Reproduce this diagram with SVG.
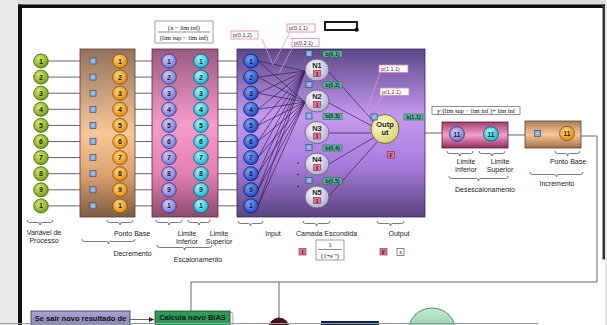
<svg xmlns="http://www.w3.org/2000/svg" width="607" height="325" viewBox="0 0 607 325">
<defs>
<linearGradient id="gBrown" x1="0" y1="0" x2="0" y2="1"><stop offset="0" stop-color="#94725a"/><stop offset="0.5" stop-color="#f8c898"/><stop offset="0.75" stop-color="#dca070"/><stop offset="1" stop-color="#7c5c40"/></linearGradient>
<linearGradient id="gPink" x1="0" y1="0" x2="0" y2="1"><stop offset="0" stop-color="#9a5a80"/><stop offset="0.45" stop-color="#f59ccb"/><stop offset="0.75" stop-color="#e27fb0"/><stop offset="1" stop-color="#8c4c6c"/></linearGradient>
<linearGradient id="gPurple" x1="0" y1="0" x2="0" y2="1"><stop offset="0" stop-color="#5c4888"/><stop offset="0.4" stop-color="#c49af0"/><stop offset="0.7" stop-color="#a47cd8"/><stop offset="1" stop-color="#5a4480"/></linearGradient>
<linearGradient id="gDes" x1="0" y1="0" x2="0" y2="1"><stop offset="0" stop-color="#a0406a"/><stop offset="0.5" stop-color="#f4a0cc"/><stop offset="1" stop-color="#902c5c"/></linearGradient>
<linearGradient id="gInc" x1="0" y1="0" x2="0" y2="1"><stop offset="0" stop-color="#a87c56"/><stop offset="0.5" stop-color="#f8c898"/><stop offset="1" stop-color="#a07048"/></linearGradient>
<radialGradient id="cGreen" cx="0.4" cy="0.35" r="0.7"><stop offset="0" stop-color="#d8ec70"/><stop offset="1" stop-color="#6a9a10"/></radialGradient>
<radialGradient id="cOrange" cx="0.4" cy="0.35" r="0.7"><stop offset="0" stop-color="#ffd878"/><stop offset="1" stop-color="#e08810"/></radialGradient>
<radialGradient id="cLav" cx="0.4" cy="0.35" r="0.7"><stop offset="0" stop-color="#d0d0ff"/><stop offset="1" stop-color="#7070d0"/></radialGradient>
<radialGradient id="cCyan" cx="0.4" cy="0.35" r="0.7"><stop offset="0" stop-color="#a8f8ff"/><stop offset="1" stop-color="#10b0c8"/></radialGradient>
<radialGradient id="cBlue" cx="0.4" cy="0.35" r="0.7"><stop offset="0" stop-color="#7aa8ff"/><stop offset="1" stop-color="#1a40c0"/></radialGradient>
<radialGradient id="cNeuron" cx="0.4" cy="0.35" r="0.75"><stop offset="0" stop-color="#ffffff"/><stop offset="1" stop-color="#a8a0cc"/></radialGradient>
<radialGradient id="cYellow" cx="0.4" cy="0.35" r="0.75"><stop offset="0" stop-color="#ffffd8"/><stop offset="1" stop-color="#d4cc60"/></radialGradient>
<linearGradient id="gBall" x1="0" y1="0" x2="0" y2="1"><stop offset="0" stop-color="#c8ecd0"/><stop offset="1" stop-color="#40a880"/></linearGradient>
<linearGradient id="gSe" x1="0" y1="0" x2="0" y2="1"><stop offset="0" stop-color="#a8a6d4"/><stop offset="1" stop-color="#7a78a8"/></linearGradient>
<marker id="arr" markerWidth="6" markerHeight="6" refX="5" refY="3" orient="auto" markerUnits="userSpaceOnUse"><path d="M0,0.5 L5,3 L0,5.5 z" fill="#222"/></marker>
</defs>
<style>
.num{font-family:"Liberation Sans",Arial,sans-serif;font-size:7px;font-weight:bold;fill:#1a1a1a;text-anchor:middle}
.lbl{font-family:"Liberation Sans",Arial,sans-serif;font-size:7px;fill:#222;text-anchor:middle}
.plbl{font-family:"Liberation Sans",Arial,sans-serif;font-size:5.5px;fill:#333}
.blbl{font-family:"Liberation Sans",Arial,sans-serif;font-size:5.5px;font-weight:bold;fill:#123;text-anchor:middle}
.frm{font-family:"Liberation Serif","Times New Roman",serif;font-size:6.5px;fill:#111;text-anchor:middle}
.cg{fill:url(#cGreen);stroke:#3a5a08;stroke-width:0.8}
.co{fill:url(#cOrange);stroke:#8a4a00;stroke-width:0.8}
.cl{fill:url(#cLav);stroke:#303080;stroke-width:0.8}
.cc{fill:url(#cCyan);stroke:#005a70;stroke-width:0.8}
.cb{fill:url(#cBlue);stroke:#0a1a60;stroke-width:0.8}
.sq{fill:#8cb0e0;stroke:#30507a;stroke-width:0.7}
.dot{fill:#ffffff}
.pk{fill:#e07898;stroke:#7a2a40;stroke-width:0.6}
.pkt{font-family:"Liberation Serif",serif;font-size:5.5px;fill:#4a0a20;text-anchor:middle;font-weight:bold}
.bl{fill:#5cc09a;stroke:#2a6a50;stroke-width:0.6}
.pbox{fill:#fff;stroke:#e080b0;stroke-width:0.8}
.wire{stroke:#555;stroke-width:0.9;fill:none}
.net{stroke:#3a1a52;stroke-width:0.7;fill:none}
.pline{stroke:#e890c0;stroke-width:0.8;fill:none}
.brace{stroke:#555;stroke-width:0.8;fill:none}
.neu{fill:url(#cNeuron);stroke:#606070;stroke-width:0.8}
</style>
<rect x="0" y="0" width="607" height="325" fill="#ffffff"/>
<rect x="0" y="0" width="607" height="5" fill="#dcdcdc"/>
<rect x="0" y="0" width="18" height="325" fill="#ebebeb"/>
<rect x="605" y="0" width="2" height="325" fill="#e6e6e6"/>
<rect x="18" y="4.5" width="587" height="3.5" fill="#111"/>
<rect x="18" y="4.5" width="4" height="320.5" fill="#111"/>
<rect x="602.5" y="4.5" width="2.5" height="255" fill="#333"/>

<g id="connectors">
<path class="wire" d="M48.5,61H80M48.5,77.1H80M48.5,93.2H80M48.5,109.3H80M48.5,125.4H80M48.5,141.5H80M48.5,157.6H80M48.5,173.7H80M48.5,189.8H80M48.5,205.9H80"/>
<path class="wire" d="M135,61H152M135,77.1H152M135,93.2H152M135,109.3H152M135,125.4H152M135,141.5H152M135,157.6H152M135,173.7H152M135,189.8H152M135,205.9H152"/>
<path class="wire" d="M218,61H237M218,77.1H237M218,93.2H237M218,109.3H237M218,125.4H237M218,141.5H237M218,157.6H237M218,173.7H237M218,189.8H237M218,205.9H237"/>
<path class="wire" d="M399,133H442M508,135H525M581,136H597V282H191V311M279,282V318"/>
<path class="wire" d="M130,319.5H154" marker-end="url(#arr)"/>
</g>

<g id="decremento">
<rect x="80" y="49" width="55" height="168" fill="url(#gBrown)" stroke="#5a4030" stroke-width="0.8"/>
</g>
<g id="escalonamento">
<rect x="152" y="49" width="66" height="168" fill="url(#gPink)" stroke="#5a2a40" stroke-width="0.8"/>
<rect x="155" y="21" width="58" height="22" fill="#fff" stroke="#888" stroke-width="0.8"/>
<text class="frm" x="184" y="29.5">(x − lim inf)</text>
<line x1="158" y1="32" x2="210" y2="32" stroke="#222" stroke-width="0.5"/>
<text class="frm" x="184" y="39.5">(lim sup − lim inf)</text>
</g>
<g id="rede">
<rect x="237" y="49" width="188" height="168" fill="url(#gPurple)" stroke="#3a2a5a" stroke-width="0.8"/>
</g>

<g id="network-lines">
<path class="net" d="M258,61L305,71M258,77.1L305,71M258,93.2L305,71M258,109.3L305,71M258,125.4L305,71M258,141.5L305,71M258,157.6L305,71M258,173.7L305,71M258,189.8L305,71M258,205.9L305,71"/>
<path class="net" d="M258,61L305,102M258,77.1L305,102M258,93.2L305,102M258,109.3L305,102M258,125.4L305,102M258,141.5L305,102M258,157.6L305,102M258,173.7L305,102M258,189.8L305,102M258,205.9L305,102"/>
<path class="net" d="M329,72L374,122M329,103L372,126M329,133H371M329,164L373,138M329,196L377,142"/>
<path class="pline" d="M262,39L273,65M290,32L274,63M293,47L279,73M380,73L365,115M382,96L370,116"/>
</g>

<g id="variavel">
<ellipse class="cg" cx="41" cy="61" rx="7.3" ry="7"/><text class="num" x="41" y="63.5">1</text>
<ellipse class="cg" cx="41" cy="77.1" rx="7.3" ry="7"/><text class="num" x="41" y="79.6">2</text>
<ellipse class="cg" cx="41" cy="93.2" rx="7.3" ry="7"/><text class="num" x="41" y="95.7">3</text>
<ellipse class="cg" cx="41" cy="109.3" rx="7.3" ry="7"/><text class="num" x="41" y="111.8">4</text>
<ellipse class="cg" cx="41" cy="125.4" rx="7.3" ry="7"/><text class="num" x="41" y="127.9">5</text>
<ellipse class="cg" cx="41" cy="141.5" rx="7.3" ry="7"/><text class="num" x="41" y="144">6</text>
<ellipse class="cg" cx="41" cy="157.6" rx="7.3" ry="7"/><text class="num" x="41" y="160.1">7</text>
<ellipse class="cg" cx="41" cy="173.7" rx="7.3" ry="7"/><text class="num" x="41" y="176.2">8</text>
<ellipse class="cg" cx="41" cy="189.8" rx="7.3" ry="7"/><text class="num" x="41" y="192.3">9</text>
<ellipse class="cg" cx="41" cy="205.9" rx="7.3" ry="7"/><text class="num" x="41" y="208.4">1</text>
</g>

<g id="decremento-itens">
<rect class="sq" x="90" y="58" width="6" height="6"/><rect class="sq" x="90" y="74.1" width="6" height="6"/><rect class="sq" x="90" y="90.2" width="6" height="6"/><rect class="sq" x="90" y="106.3" width="6" height="6"/><rect class="sq" x="90" y="122.4" width="6" height="6"/><rect class="sq" x="90" y="138.5" width="6" height="6"/><rect class="sq" x="90" y="154.6" width="6" height="6"/><rect class="sq" x="90" y="170.7" width="6" height="6"/><rect class="sq" x="90" y="186.8" width="6" height="6"/><rect class="sq" x="90" y="202.9" width="6" height="6"/>
<ellipse class="co" cx="120" cy="61" rx="7.3" ry="7"/><text class="num" x="120" y="63.5">1</text>
<ellipse class="co" cx="120" cy="77.1" rx="7.3" ry="7"/><text class="num" x="120" y="79.6">2</text>
<ellipse class="co" cx="120" cy="93.2" rx="7.3" ry="7"/><text class="num" x="120" y="95.7">3</text>
<ellipse class="co" cx="120" cy="109.3" rx="7.3" ry="7"/><text class="num" x="120" y="111.8">4</text>
<ellipse class="co" cx="120" cy="125.4" rx="7.3" ry="7"/><text class="num" x="120" y="127.9">5</text>
<ellipse class="co" cx="120" cy="141.5" rx="7.3" ry="7"/><text class="num" x="120" y="144">6</text>
<ellipse class="co" cx="120" cy="157.6" rx="7.3" ry="7"/><text class="num" x="120" y="160.1">7</text>
<ellipse class="co" cx="120" cy="173.7" rx="7.3" ry="7"/><text class="num" x="120" y="176.2">8</text>
<ellipse class="co" cx="120" cy="189.8" rx="7.3" ry="7"/><text class="num" x="120" y="192.3">9</text>
<ellipse class="co" cx="120" cy="205.9" rx="7.3" ry="7"/><text class="num" x="120" y="208.4">1</text>
</g>

<g id="escalonamento-itens">
<ellipse class="cl" cx="169" cy="61" rx="7.3" ry="7"/><text class="num" x="169" y="63.5">1</text>
<ellipse class="cl" cx="169" cy="77.1" rx="7.3" ry="7"/><text class="num" x="169" y="79.6">2</text>
<ellipse class="cl" cx="169" cy="93.2" rx="7.3" ry="7"/><text class="num" x="169" y="95.7">3</text>
<ellipse class="cl" cx="169" cy="109.3" rx="7.3" ry="7"/><text class="num" x="169" y="111.8">4</text>
<ellipse class="cl" cx="169" cy="125.4" rx="7.3" ry="7"/><text class="num" x="169" y="127.9">5</text>
<ellipse class="cl" cx="169" cy="141.5" rx="7.3" ry="7"/><text class="num" x="169" y="144">6</text>
<ellipse class="cl" cx="169" cy="157.6" rx="7.3" ry="7"/><text class="num" x="169" y="160.1">7</text>
<ellipse class="cl" cx="169" cy="173.7" rx="7.3" ry="7"/><text class="num" x="169" y="176.2">8</text>
<ellipse class="cl" cx="169" cy="189.8" rx="7.3" ry="7"/><text class="num" x="169" y="192.3">9</text>
<ellipse class="cl" cx="169" cy="205.9" rx="7.3" ry="7"/><text class="num" x="169" y="208.4">1</text>
<ellipse class="cc" cx="201" cy="61" rx="7.3" ry="7"/><text class="num" x="201" y="63.5">1</text>
<ellipse class="cc" cx="201" cy="77.1" rx="7.3" ry="7"/><text class="num" x="201" y="79.6">2</text>
<ellipse class="cc" cx="201" cy="93.2" rx="7.3" ry="7"/><text class="num" x="201" y="95.7">3</text>
<ellipse class="cc" cx="201" cy="109.3" rx="7.3" ry="7"/><text class="num" x="201" y="111.8">4</text>
<ellipse class="cc" cx="201" cy="125.4" rx="7.3" ry="7"/><text class="num" x="201" y="127.9">5</text>
<ellipse class="cc" cx="201" cy="141.5" rx="7.3" ry="7"/><text class="num" x="201" y="144">6</text>
<ellipse class="cc" cx="201" cy="157.6" rx="7.3" ry="7"/><text class="num" x="201" y="160.1">7</text>
<ellipse class="cc" cx="201" cy="173.7" rx="7.3" ry="7"/><text class="num" x="201" y="176.2">8</text>
<ellipse class="cc" cx="201" cy="189.8" rx="7.3" ry="7"/><text class="num" x="201" y="192.3">9</text>
<ellipse class="cc" cx="201" cy="205.9" rx="7.3" ry="7"/><text class="num" x="201" y="208.4">1</text>
</g>

<g id="input">
<ellipse class="cb" cx="251" cy="61" rx="7.3" ry="7"/><text class="num" x="251" y="63.5">1</text>
<ellipse class="cb" cx="251" cy="77.1" rx="7.3" ry="7"/><text class="num" x="251" y="79.6">2</text>
<ellipse class="cb" cx="251" cy="93.2" rx="7.3" ry="7"/><text class="num" x="251" y="95.7">3</text>
<ellipse class="cb" cx="251" cy="109.3" rx="7.3" ry="7"/><text class="num" x="251" y="111.8">4</text>
<ellipse class="cb" cx="251" cy="125.4" rx="7.3" ry="7"/><text class="num" x="251" y="127.9">5</text>
<ellipse class="cb" cx="251" cy="141.5" rx="7.3" ry="7"/><text class="num" x="251" y="144">6</text>
<ellipse class="cb" cx="251" cy="157.6" rx="7.3" ry="7"/><text class="num" x="251" y="160.1">7</text>
<ellipse class="cb" cx="251" cy="173.7" rx="7.3" ry="7"/><text class="num" x="251" y="176.2">8</text>
<ellipse class="cb" cx="251" cy="189.8" rx="7.3" ry="7"/><text class="num" x="251" y="192.3">9</text>
<ellipse class="cb" cx="251" cy="205.9" rx="7.3" ry="7"/><text class="num" x="251" y="208.4">1</text>
</g>

<g id="pesos">
<rect class="pbox" x="231" y="31" width="27" height="8"/><text class="plbl" x="233" y="37">p(0,1,2)</text>
<rect class="pbox" x="287" y="24" width="28" height="8"/><text class="plbl" x="289" y="30">p(0,1,1)</text>
<rect class="pbox" x="292" y="38.5" width="27" height="8"/><text class="plbl" x="294" y="44.5">p(0,2,1)</text>
<rect class="pbox" x="379" y="65" width="29" height="7.5"/><text class="plbl" x="381" y="70.8">p(1,1,1)</text>
<rect class="pbox" x="380" y="88" width="29" height="7.5"/><text class="plbl" x="382" y="93.8">p(1,2,1)</text>
<rect x="325" y="22" width="32" height="8" fill="#fff" stroke="#000" stroke-width="1.8"/>
<rect x="355" y="28" width="3.5" height="3.5" fill="#000"/>
</g>

<g id="N1"><rect class="sq" x="306" y="50.5" width="6" height="6"/><rect class="bl" x="323" y="51" width="19" height="6"/><text class="blbl" x="332.5" y="55.8">b(0,1)</text>
<ellipse class="neu" cx="317" cy="70" rx="12" ry="11"/><text class="num" x="317" y="68" style="font-size:7.5px">N1</text><rect class="pk" x="313.5" y="70.5" width="7" height="6"/><text class="pkt" x="317" y="75.5">I</text></g>
<g id="N2"><rect class="sq" x="306" y="81.5" width="6" height="6"/><rect class="bl" x="323" y="82" width="19" height="6"/><text class="blbl" x="332.5" y="86.8">b(0,2)</text>
<ellipse class="neu" cx="317" cy="101" rx="12" ry="11"/><text class="num" x="317" y="99" style="font-size:7.5px">N2</text><rect class="pk" x="313.5" y="101.5" width="7" height="6"/><text class="pkt" x="317" y="106.5">I</text></g>
<g id="N3"><rect class="sq" x="306" y="113" width="6" height="6"/><rect class="bl" x="323" y="113.5" width="19" height="6"/><text class="blbl" x="332.5" y="118.3">b(0,3)</text>
<ellipse class="neu" cx="317" cy="132.5" rx="12" ry="11"/><text class="num" x="317" y="130.5" style="font-size:7.5px">N3</text><rect class="pk" x="313.5" y="133" width="7" height="6"/><text class="pkt" x="317" y="138">I</text></g>
<g id="N4"><rect class="sq" x="306" y="144.5" width="6" height="6"/><rect class="bl" x="323" y="145" width="19" height="6"/><text class="blbl" x="332.5" y="149.8">b(0,4)</text>
<ellipse class="neu" cx="317" cy="164" rx="12" ry="11"/><text class="num" x="317" y="162" style="font-size:7.5px">N4</text><rect class="pk" x="313.5" y="164.5" width="7" height="6"/><text class="pkt" x="317" y="169.5">I</text></g>
<g id="N5"><rect class="sq" x="306" y="177.5" width="6" height="6"/><rect class="bl" x="323" y="178" width="19" height="6"/><text class="blbl" x="332.5" y="182.8">b(0,5)</text>
<ellipse class="neu" cx="317" cy="197" rx="12" ry="11"/><text class="num" x="317" y="195" style="font-size:7.5px">N5</text><rect class="pk" x="313.5" y="197.5" width="7" height="6"/><text class="pkt" x="317" y="202.5">I</text></g>
<g id="dots"><circle cx="298" cy="163" r="0.8" fill="#222"/><circle cx="298" cy="174.5" r="0.8" fill="#222"/><circle cx="298" cy="186.5" r="0.8" fill="#222"/></g>

<g id="output">
<ellipse cx="385" cy="129" rx="14" ry="14.5" fill="url(#cYellow)" stroke="#555540" stroke-width="0.8"/>
<rect class="sq" x="371" y="114" width="6.5" height="6"/><circle class="dot" cx="374.2" cy="117" r="0.6"/>
<rect class="bl" x="404" y="114" width="19" height="6"/><text class="blbl" x="413.5" y="118.8">b(1,1)</text>
<text class="num" x="385" y="127" style="font-size:7.5px">Outp</text><text class="num" x="385" y="135" style="font-size:7.5px">ut</text>
<rect class="pk" x="387.5" y="151.5" width="7" height="6.5"/><text class="pkt" x="391" y="156.8">F</text>
</g>

<g id="desescalonamento">
<rect x="432" y="106.5" width="88" height="8" fill="#fff" stroke="#777" stroke-width="0.8"/>
<text class="frm" x="476" y="112.8">y·(lim sup − lim inf )+ lim inf</text>
<rect x="442" y="122" width="66" height="26" fill="url(#gDes)" stroke="#5a1a3a" stroke-width="0.8"/>
<ellipse class="cl" cx="457" cy="134" rx="7.5" ry="7.2"/><text class="num" x="457" y="136.5" style="font-size:6.5px">11</text>
<ellipse class="cc" cx="491" cy="134" rx="7.5" ry="7.2"/><text class="num" x="491" y="136.5" style="font-size:6.5px">11</text>
</g>

<g id="incremento">
<rect x="525" y="121" width="56" height="27" fill="url(#gInc)" stroke="#5a4030" stroke-width="0.8"/>
<rect class="sq" x="534.5" y="130.5" width="6" height="6"/>
<ellipse class="co" cx="567" cy="133.5" rx="7.5" ry="7.2"/><text class="num" x="567" y="136" style="font-size:6.5px">11</text>
</g>

<g id="dots-small">
<circle class="dot" cx="93" cy="61" r="0.6"/><circle class="dot" cx="93" cy="77.1" r="0.6"/><circle class="dot" cx="93" cy="93.2" r="0.6"/><circle class="dot" cx="93" cy="109.3" r="0.6"/><circle class="dot" cx="93" cy="125.4" r="0.6"/><circle class="dot" cx="93" cy="141.5" r="0.6"/><circle class="dot" cx="93" cy="157.6" r="0.6"/><circle class="dot" cx="93" cy="173.7" r="0.6"/><circle class="dot" cx="93" cy="189.8" r="0.6"/><circle class="dot" cx="93" cy="205.9" r="0.6"/>
<circle class="dot" cx="309" cy="53.5" r="0.6"/><circle class="dot" cx="309" cy="84.5" r="0.6"/><circle class="dot" cx="309" cy="116" r="0.6"/><circle class="dot" cx="309" cy="147.5" r="0.6"/><circle class="dot" cx="309" cy="180.5" r="0.6"/><circle class="dot" cx="537.5" cy="133.5" r="0.6"/>
</g>

<g id="braces">
<path class="brace" d="M27,220 q0,2.5 2.5,2.5 H38 q2,0 2,2.5 q0,-2.5 2,-2.5 H50.5 q2.5,0 2.5,-2.5"/>
<path class="brace" d="M107,220 q0,2.5 2.5,2.5 H118 q2,0 2,2.5 q0,-2.5 2,-2.5 H130.5 q2.5,0 2.5,-2.5"/>
<path class="brace" d="M82,239 q0,2.5 2.5,2.5 H106.5 q2,0 2,2.5 q0,-2.5 2,-2.5 H132.5 q2.5,0 2.5,-2.5"/>
<path class="brace" d="M156,220 q0,2.5 2.5,2.5 H167 q2,0 2,2.5 q0,-2.5 2,-2.5 H179.5 q2.5,0 2.5,-2.5"/>
<path class="brace" d="M188,220 q0,2.5 2.5,2.5 H197 q2,0 2,2.5 q0,-2.5 2,-2.5 H207.5 q2.5,0 2.5,-2.5"/>
<path class="brace" d="M157,245 q0,2.5 2.5,2.5 H182.5 q2,0 2,2.5 q0,-2.5 2,-2.5 H209.5 q2.5,0 2.5,-2.5"/>
<path class="brace" d="M238,221 q0,2.5 2.5,2.5 H248.5 q2,0 2,2.5 q0,-2.5 2,-2.5 H260.5 q2.5,0 2.5,-2.5"/>
<path class="brace" d="M303,221 q0,2.5 2.5,2.5 H314.5 q2,0 2,2.5 q0,-2.5 2,-2.5 H327.5 q2.5,0 2.5,-2.5"/>
<path class="brace" d="M377,221 q0,2.5 2.5,2.5 H388.5 q2,0 2,2.5 q0,-2.5 2,-2.5 H401.5 q2.5,0 2.5,-2.5"/>
<path class="brace" d="M447,151 q0,2.5 2.5,2.5 H458 q2,0 2,2.5 q0,-2.5 2,-2.5 H470.5 q2.5,0 2.5,-2.5"/>
<path class="brace" d="M479,151 q0,2.5 2.5,2.5 H490 q2,0 2,2.5 q0,-2.5 2,-2.5 H502.5 q2.5,0 2.5,-2.5"/>
<path class="brace" d="M449,176 q0,2.5 2.5,2.5 H476.5 q2,0 2,2.5 q0,-2.5 2,-2.5 H505.5 q2.5,0 2.5,-2.5"/>
<path class="brace" d="M555,151 q0,2.5 2.5,2.5 H565.5 q2,0 2,2.5 q0,-2.5 2,-2.5 H577.5 q2.5,0 2.5,-2.5"/>
<path class="brace" d="M530,172 q0,2.5 2.5,2.5 H554.5 q2,0 2,2.5 q0,-2.5 2,-2.5 H580.5 q2.5,0 2.5,-2.5"/>
</g>

<g id="labels">
<text class="lbl" x="44" y="235">Variável de</text><text class="lbl" x="44" y="243">Processo</text>
<text class="lbl" x="132" y="235.5">Ponto Base</text>
<text class="lbl" x="132.5" y="256">Decremento</text>
<text class="lbl" x="187" y="235.5">Limite</text><text class="lbl" x="187" y="243.5">Inferior</text>
<text class="lbl" x="219" y="235.5">Limite</text><text class="lbl" x="219" y="243.5">Superior</text>
<text class="lbl" x="198" y="261.5">Escalonamento</text>
<text class="lbl" x="273" y="235.5">Input</text>
<text class="lbl" x="326.5" y="235.5">Camada Escondida</text>
<text class="lbl" x="399" y="235.5">Output</text>
<text class="lbl" x="466" y="164">Limite</text><text class="lbl" x="466" y="172">Inferior</text>
<text class="lbl" x="500" y="164">Limite</text><text class="lbl" x="500" y="172">Superior</text>
<text class="lbl" x="485" y="192">Desescalonamento</text>
<text class="lbl" x="568" y="164">Ponto Base</text>
<text class="lbl" x="557" y="186">Incremento</text>
</g>

<g id="legenda">
<rect class="pk" x="299" y="248.5" width="7" height="6.5"/><text class="pkt" x="302.5" y="253.8">I</text>
<rect x="316" y="240" width="28" height="20" fill="#fff" stroke="#888" stroke-width="0.8"/>
<text class="frm" x="330" y="247">1</text>
<line x1="318" y1="249.5" x2="342" y2="249.5" stroke="#222" stroke-width="0.5"/>
<text class="frm" x="330" y="257.5">(1+e⁻ˣ)</text>
<rect class="pk" x="380" y="248.5" width="7" height="6.5"/><text class="pkt" x="383.5" y="253.8">F</text>
<rect x="397" y="248.5" width="7" height="7" fill="#fff" stroke="#555" stroke-width="0.7"/><text class="frm" x="400.5" y="254" style="font-size:5.5px">x</text>
</g>

<g id="se-sair">
<rect x="31" y="311" width="99" height="20" fill="url(#gSe)" stroke="#333" stroke-width="0.8"/>
<text x="80.5" y="321" style="font-family:'Liberation Sans',Arial,sans-serif;font-size:7.5px;font-weight:bold;fill:#111;text-anchor:middle">Se sair novo resultado de</text>
</g>
<g id="calcula-bias">
<rect x="158" y="312" width="75" height="20" rx="3" fill="#f4f4f4" stroke="#999" stroke-width="0.8"/>
<rect x="155" y="311" width="75" height="20" fill="#2f9a5c" stroke="#1a4a2a" stroke-width="0.8"/>
<text x="192.5" y="320" style="font-family:'Liberation Sans',Arial,sans-serif;font-size:7.5px;font-weight:bold;fill:#0a1a10;text-anchor:middle">Calcula novo BIAS</text>
</g>
<g id="circulo-escuro"><circle cx="279" cy="328" r="10" fill="#4a1020" stroke="#2a0810" stroke-width="0.8"/></g>
<g id="bloco-azul"><rect x="321" y="321" width="58" height="10" fill="#0c2850"/></g>
<g id="bola-verde"><circle cx="432" cy="332" r="24" fill="url(#gBall)" stroke="#3a6a50" stroke-width="0.8"/></g>
<line x1="0" y1="323.5" x2="538" y2="323.5" stroke="#999" stroke-width="1"/>
</svg>
